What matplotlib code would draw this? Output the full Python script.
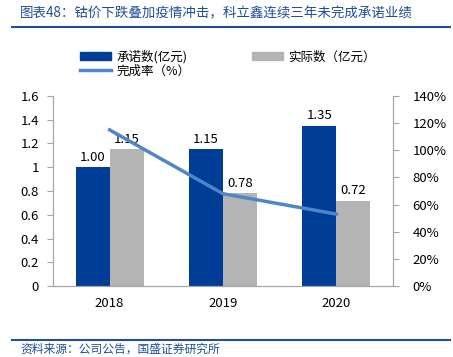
import matplotlib
matplotlib.use("Agg")
import matplotlib.pyplot as plt
import numpy as np
from matplotlib.lines import Line2D
from matplotlib.patches import Patch

plt.rcParams['font.family'] = ['Noto Sans CJK SC', 'DejaVu Sans']

years = ['2018', '2019', '2020']
promised = [1.00, 1.15, 1.35]
actual = [1.15, 0.78, 0.72]
rate = [115, 68, 53]

blue = '#003D96'
gray = '#B4B4B4'
lblue = '#4F86C6'

fig = plt.figure(figsize=(4.53, 3.57), dpi=100)
W, H = 453, 357
ax = fig.add_axes([53 / W, 1 - 286 / H, (393 - 53) / W, (286 - 96) / H])
ax2 = ax.twinx()

x = np.arange(len(years))
bw = 0.3
b1 = ax.bar(x - bw / 2, promised, bw, color=blue, zorder=2)
b2 = ax.bar(x + bw / 2, actual, bw, color=gray, zorder=2)
for xi, v in zip(x, promised):
    ax.text(xi - bw / 2, v + 0.03, f'{v:.2f}', ha='center', va='bottom', fontsize=9.5, color='black')
for xi, v in zip(x, actual):
    ax.text(xi + bw / 2, v + 0.03, f'{v:.2f}', ha='center', va='bottom', fontsize=9.5, color='black')

ax2.plot(x, rate, color=lblue, lw=2.5, zorder=3)

ax.set_xlim(-0.5, 2.5)
ax.set_ylim(0, 1.6)
ax.set_yticks(np.arange(0, 1.61, 0.2))
ax.set_yticklabels(['0', '0.2', '0.4', '0.6', '0.8', '1', '1.2', '1.4', '1.6'])
ax2.set_ylim(0, 140)
ax2.set_yticks(np.arange(0, 141, 20))
ax2.set_yticklabels([f'{v}%' for v in range(0, 141, 20)])
ax.set_xticks(x)
ax.set_xticklabels(years)

for a in (ax, ax2):
    a.spines['top'].set_visible(False)
    for s in ('left', 'right', 'bottom'):
        a.spines[s].set_color('#A6A6A6')
    a.tick_params(colors='black', labelsize=9.5)
    a.tick_params(axis='y', color='#A6A6A6', length=4)
ax.tick_params(axis='x', length=0, pad=8)
ax.tick_params(axis='y', pad=6)
ax2.tick_params(axis='y', pad=10)

# title and lines
fig.text(20 / W, 1 - 13 / H, '图表48：钴价下跌叠加疫情冲击，科立鑫连续三年未完成承诺业绩',
         fontsize=9.7, color='#1F4E9A', style='italic', va='center', ha='left')
fig.add_artist(Line2D([12 / W, 450 / W], [1 - 27 / H, 1 - 27 / H], color='#1F4E9A', lw=1.5))
fig.add_artist(Line2D([12 / W, 450 / W], [1 - 340 / H, 1 - 340 / H], color='#1F4E9A', lw=1.5))
fig.text(20 / W, 1 - 349 / H, '资料来源：公司公告，国盛证券研究所',
         fontsize=8.5, color='#1F4E9A', style='italic', va='center', ha='left')

# legend
handles = [Patch(color=blue), Line2D([], [], color=lblue, lw=2.5), Patch(color=gray)]
labels = ['承诺数(亿元)', '完成率（%）', '实际数（亿元）']
fig.legend(handles, labels, ncol=2, loc='upper left', bbox_to_anchor=(80 / W, 1 - 50 / H),
           frameon=False, fontsize=9, handlelength=2.5, handleheight=0.7,
           columnspacing=4.9, labelspacing=0.1, handletextpad=0.4, borderaxespad=0, borderpad=0)

fig.savefig('out.png', dpi=100)
